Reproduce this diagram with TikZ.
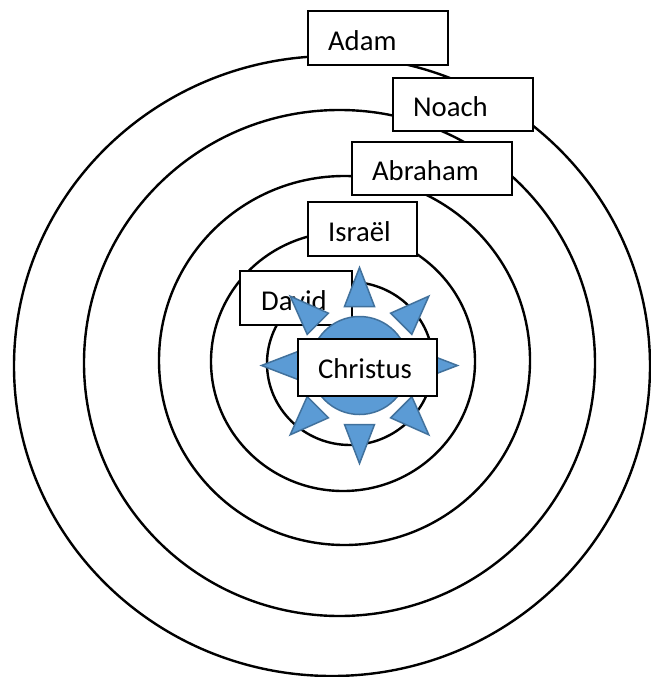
\documentclass[tikz,border=0pt]{standalone}
\usepackage{fontspec}
\setmainfont{Carlito}
\definecolor{sunfill}{HTML}{5B9BD5}
\definecolor{sunline}{HTML}{41719C}
\begin{document}
\begin{tikzpicture}[x=1bp,y=-1bp,
  ring/.style={draw=black, line width=2.4bp},
  namebox/.style={draw=black, fill=white, line width=2.2bp, anchor=north west,
    inner xsep=20bp, inner ysep=0pt, align=left, text height=24bp, text depth=0bp,
    font=\fontsize{28.7bp}{34bp}\selectfont},
  sunpart/.style={fill=sunfill, draw=sunline, line width=1.5bp, line join=miter}]
\useasboundingbox (0,0) rectangle (651,677);
% rings
\draw[ring] (332,366) ellipse [x radius=318bp, y radius=310bp];
\draw[ring] (339.5,363) ellipse [x radius=255.5bp, y radius=253bp];
\draw[ring] (344.5,360.5) ellipse [x radius=185.5bp, y radius=184.5bp];
\draw[ring] (343,361.5) ellipse [x radius=132bp, y radius=129.5bp];
\draw[ring] (350,363.5) ellipse [x radius=83bp, y radius=81.5bp];
% name boxes
\node[namebox, minimum width=140bp, minimum height=54bp, text width=100bp] (adam) at (307,10) {Adam};
\node[namebox, minimum width=140bp, minimum height=53bp, text width=100bp] (noach) at (392,77) {Noach};
\node[namebox, minimum width=160bp, minimum height=53bp, text width=120bp] (abraham) at (351,141) {Abraham};
\node[namebox, minimum width=109bp, minimum height=54bp, text width=69bp] (israel) at (307,201) {Israël};
\node[namebox, minimum width=112bp, minimum height=54bp, text width=72bp, inner xsep=21bp, text width=70bp] (david) at (239,270) {David};
% sun
\foreach \a in {0,45,...,315}{
  \draw[sunpart, shift={(359.5,365.5)}, rotate=\a] (98bp,0bp) -- (59bp,15bp) -- (59bp,-15bp) -- cycle;
}
\draw[sunpart] (359.5,365.5) circle [radius=49bp];
\node[namebox, minimum width=139bp, minimum height=57bp, text width=99bp, text height=21bp] (christus) at (297,338) {Christus};
\end{tikzpicture}
\end{document}
